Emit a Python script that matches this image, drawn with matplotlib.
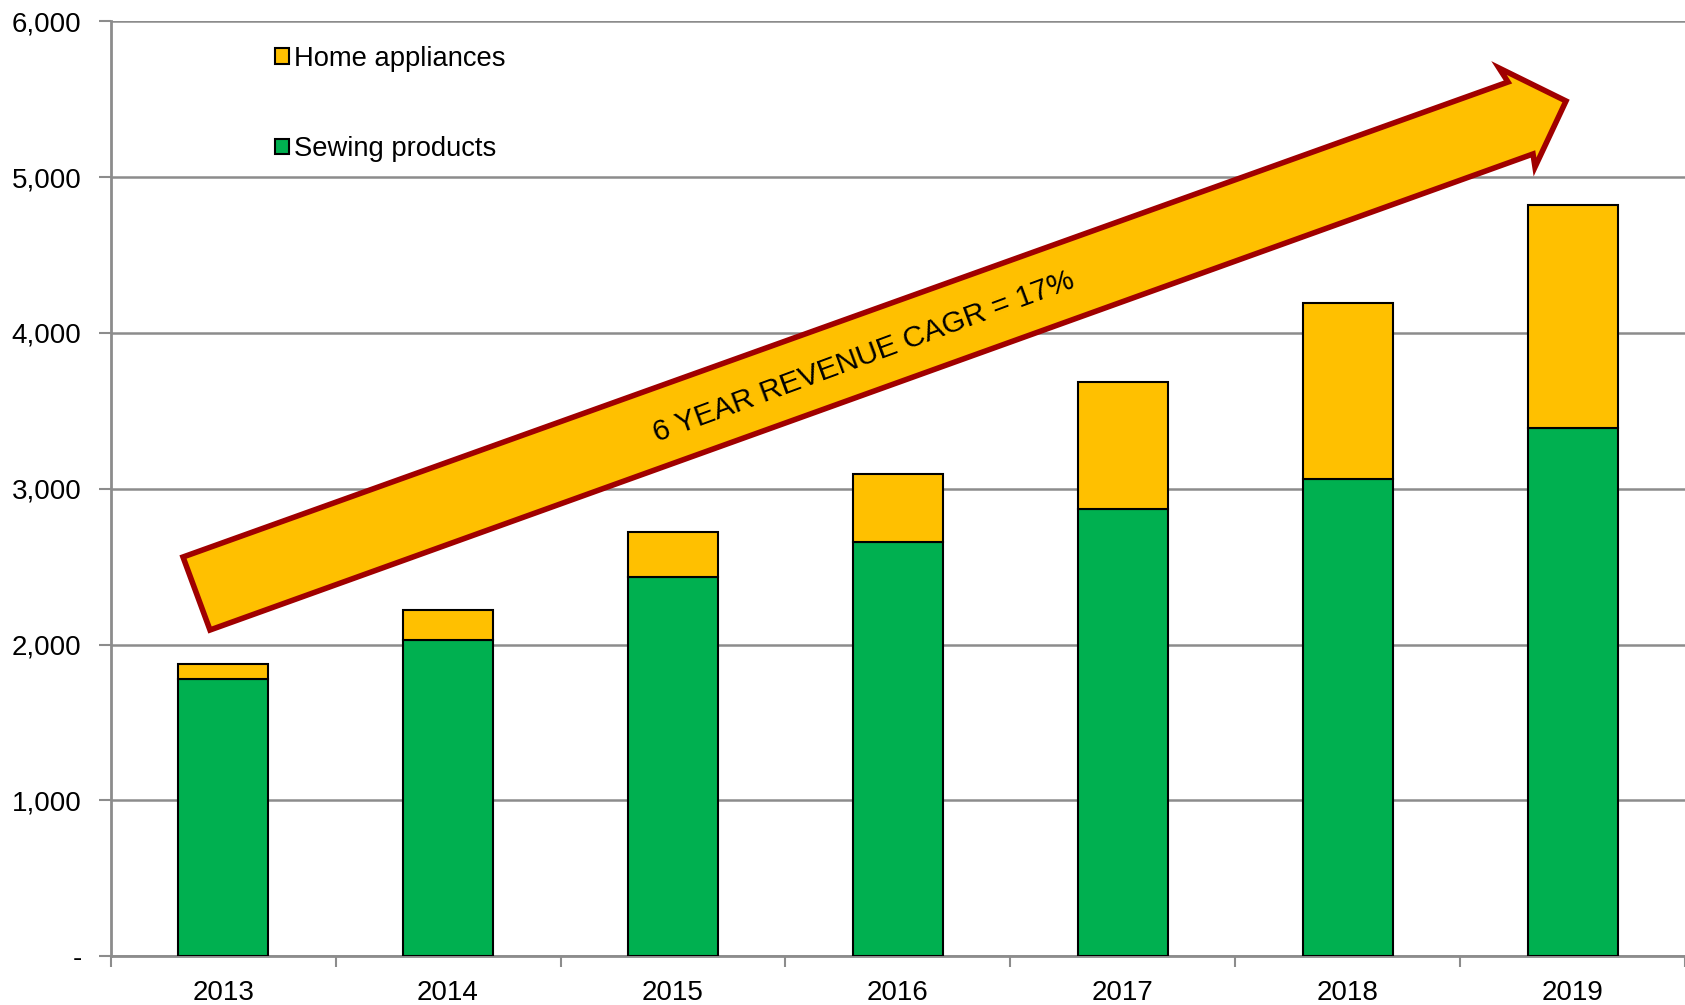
import matplotlib.pyplot as plt
import numpy as np
from matplotlib.patches import Polygon, Patch
from matplotlib.ticker import FuncFormatter

plt.rcParams["font.family"] = ["Liberation Sans", "DejaVu Sans"]

years = ["2013", "2014", "2015", "2016", "2017", "2018", "2019"]
sewing = [1779, 2028, 2434, 2655, 2869, 3062, 3393]
home = [97, 193, 290, 442, 814, 1131, 1428]

GREEN = "#00B050"
GOLD = "#FFC000"
GRID = "#8C8C8C"
W, H = 1685, 1005


def px(x, y):
    # pixel position (from top-left) -> figure fraction
    return (x / W, 1 - y / H)


fig = plt.figure(figsize=(W / 100, H / 100), dpi=100)
ax = fig.add_axes([110.7 / W, 1 - 956 / H, 1 - 110.7 / W, (956 - 21.5) / H])

x = np.arange(len(years))
ax.bar(x, sewing, width=0.4, color=GREEN, edgecolor="black", linewidth=1.5,
       zorder=3, label="Sewing products")
ax.bar(x, home, width=0.4, bottom=sewing, color=GOLD, edgecolor="black",
       linewidth=1.5, zorder=3, label="Home appliances")

ax.set_xlim(-0.5, -0.5 + (W - 110.7) / 225.7)
ax.set_ylim(0, 6000)
ax.set_yticks(np.arange(0, 6001, 1000))
ax.yaxis.set_major_formatter(FuncFormatter(lambda v, _: "-" if v == 0 else f"{v:,.0f}"))
ax.set_xticks(x)
ax.set_xticklabels(years)
ax.set_xticks(np.arange(-0.5, len(years), 1.0), minor=True)
ax.tick_params(axis="x", which="major", length=0, pad=17, labelsize=20)
ax.tick_params(axis="x", which="minor", length=8, width=1.5, color=GRID)
ax.tick_params(axis="y", length=9, width=1.5, color=GRID, pad=12, labelsize=20)

ax.grid(axis="y", color=GRID, linewidth=1.8, zorder=0)
for side in ["top", "right"]:
    ax.spines[side].set_visible(False)
for side in ["left", "bottom"]:
    ax.spines[side].set_color(GRID)
    ax.spines[side].set_linewidth(2)

handles = [Patch(facecolor=GOLD, edgecolor="black", linewidth=1.5, label="Home appliances"),
           Patch(facecolor=GREEN, edgecolor="black", linewidth=1.5, label="Sewing products")]
ax.legend(handles=handles, loc="upper left", bbox_to_anchor=px(275, 46),
          bbox_transform=fig.transFigure, frameon=False, fontsize=19.7,
          handlelength=0.5, handleheight=0.5, handletextpad=0.2,
          labelspacing=2.35, borderpad=0, borderaxespad=0)

# growth arrow
arrow_pts = [px(183, 557), px(1508, 82), px(1499, 68), px(1566, 101),
             px(1535, 167), px(1533, 154), px(210, 630)]
ax.add_patch(Polygon(arrow_pts, closed=True, facecolor=GOLD, edgecolor="#A00000",
                     linewidth=4, joinstyle="miter", transform=fig.transFigure,
                     clip_on=False, zorder=4))
fig.text(*px(864, 357), "6 YEAR REVENUE CAGR = 17%", rotation=20.3,
         ha="center", va="center", fontsize=21.5, rotation_mode="anchor")

plt.savefig("out.png", dpi=100)
